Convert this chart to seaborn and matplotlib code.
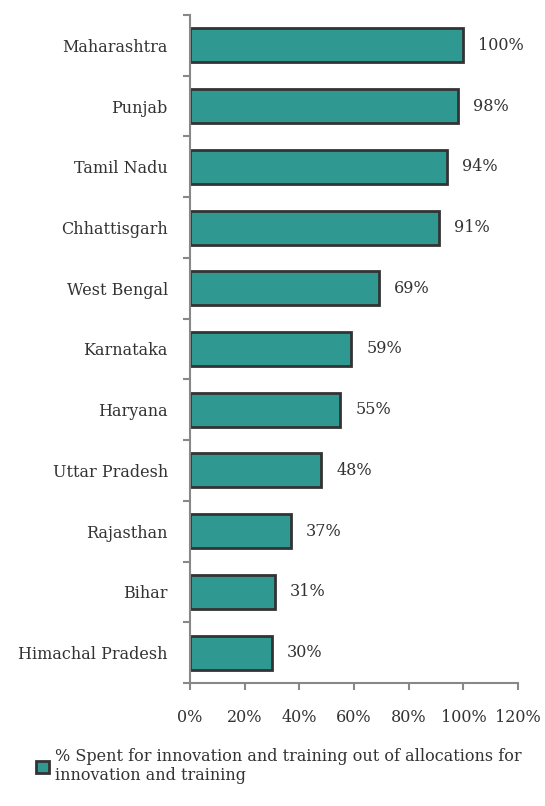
import numpy as np
import pandas as pd
import matplotlib
matplotlib.use("Agg")
import matplotlib.pyplot as plt
import seaborn as sns
from matplotlib.ticker import FixedLocator, PercentFormatter

states = ["Maharashtra", "Punjab", "Tamil Nadu", "Chhattisgarh", "West Bengal",
          "Karnataka", "Haryana", "Uttar Pradesh", "Rajasthan", "Bihar",
          "Himachal Pradesh"]
spent = [100, 98, 94, 91, 69, 59, 55, 48, 37, 31, 30]
x_ticks = [0, 20, 40, 60, 80, 100, 120]
legend_label = "% Spent for innovation and training out of allocations for\ninnovation and training"

df = pd.DataFrame({"state": states, "spent": spent})

sns.set_style("ticks")
plt.rcParams["font.family"] = ["DejaVu Serif"]

fig = plt.figure(figsize=(5.45, 8.06), dpi=100)
ax = fig.add_axes([0.3486, 0.1526, 0.602, 0.8288])

teal = "#2e9891"
sns.barplot(data=df, x="spent", y="state", color=teal, edgecolor="#333333",
            linewidth=2, width=0.56, ax=ax, saturation=1, label=legend_label)
handles, labels = ax.get_legend_handles_labels()
if ax.get_legend() is not None:
    ax.get_legend().remove()

for i, v in enumerate(spent):
    ax.text(v + 5.5, i, f"{v}%", va="center", ha="left", fontsize=11.5, color="#333333")

ax.set_xlim(0, 120)
ax.set_ylim(len(states) - 0.5, -0.5)
ax.set_xticks(x_ticks)
ax.xaxis.set_major_formatter(PercentFormatter(decimals=0))
ax.yaxis.set_minor_locator(FixedLocator(np.arange(-0.5, len(states), 1)))
ax.tick_params(axis="y", which="major", length=0, pad=16, labelsize=11.5, labelcolor="#333333")
ax.tick_params(axis="y", which="minor", left=True, length=5, width=1.5, color="#888888", direction="out")
ax.tick_params(axis="x", bottom=True, length=5, width=1.5, color="#888888", direction="out",
               pad=14, labelsize=11.5, labelcolor="#333333")
ax.set_xlabel("")
ax.set_ylabel("")

for side in ["top", "right"]:
    ax.spines[side].set_visible(False)
for side in ["left", "bottom"]:
    ax.spines[side].set_color("#888888")
    ax.spines[side].set_linewidth(1.5)

fig.legend(handles, labels, loc="upper left", bbox_to_anchor=(0.04, 0.09),
           frameon=False, fontsize=11.5, handlelength=0.8, handleheight=0.8,
           handletextpad=0.4, labelcolor="#333333")

fig.savefig("out.png", dpi=100)
